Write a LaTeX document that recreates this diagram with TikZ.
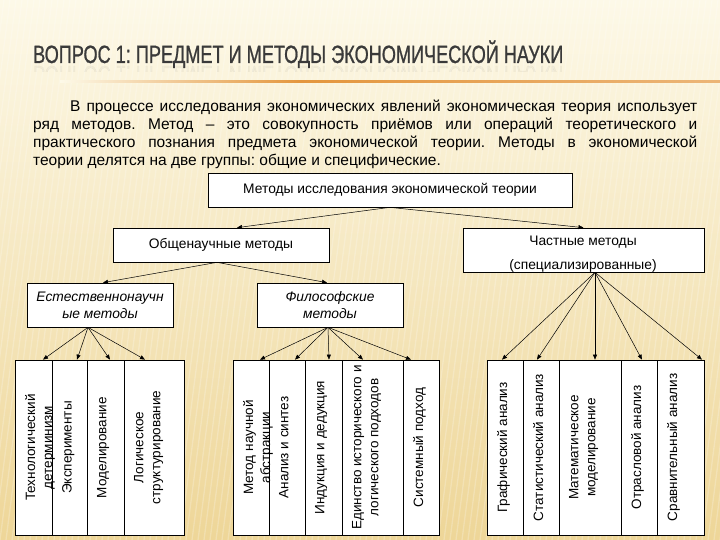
\documentclass[tikz,border=0pt]{standalone}
\usepackage{fontspec}
\setmainfont{Liberation Sans}
\newfontfamily\titlefont[FakeStretch=0.725,FakeBold=0.8]{Liberation Sans}
\usetikzlibrary{arrows.meta}
\frenchspacing
\definecolor{bgtop}{RGB}{253,249,232}
\definecolor{bgbot}{RGB}{238,214,152}
\definecolor{cline}{RGB}{228,150,62}
\definecolor{ctitle}{RGB}{58,58,58}
\tikzset{
  box/.style={draw,fill=white,line width=0.7pt,inner sep=0pt,align=center,font=\fontsize{13.8}{17}\selectfont},
  ibox/.style={box,font=\fontsize{13.8}{17}\selectfont\itshape},
  leaf/.style={draw,fill=white,line width=0.7pt,minimum height=175pt,inner sep=0pt},
  vlabel/.style={rotate=90,anchor=north,inner sep=0pt,align=center,font=\fontsize{13.5}{17}\selectfont},
  arr/.style={-{Triangle[length=5pt,width=4pt]},line width=0.5pt}
}
% leaves: left/right/arrow x/parent/parent shift/text
\def\leaves{15/52/43/es/-12/{Технологический\\детерминизм},
  52/87/77/es/-12/Эксперименты,
  87/124/110/es/-12/Моделирование,
  124/184/145/es/-12/{Логическое\\структурирование},
  233/269/260/fil/-2/{Метод научной\\абстракции},
  269/305/295/fil/-2/Анализ и синтез,
  305/342/329/fil/-2/Индукция и дедукция,
  342/403/363/fil/-2/{Единство исторического и\\логического подходов},
  403/439/411/fil/-2/Системный подход,
  487/523/502/ch/11.5/Графический анализ,
  523/559/537/ch/11.5/Статистический анализ,
  559/621/595/ch/11.5/{Математическое\\моделирование},
  621/657/642/ch/11.5/Отрасловой анализ,
  657/704/702/ch/11.5/Сравнительный анализ}

\begin{document}
\begin{tikzpicture}[x=1pt,y=-1pt]
  \useasboundingbox (0,0) rectangle (720,540);
  % background
  \shade[top color=bgtop,bottom color=bgbot] (0,0) rectangle (720,540);
  \begin{scope}
    \clip (0,0) rectangle (720,540);
    \foreach \i in {-20,-14,...,800}
      \draw[white,opacity=0.22,line width=1.3pt] (\i,0) -- ({\i-70},540);
  \end{scope}
  % title
  \node[anchor=base west,inner sep=0pt,text=ctitle,font=\titlefont\fontsize{25}{25}\selectfont] (title) at (33,63)
    {ВОПРОС 1: ПРЕДМЕТ И МЕТОДЫ ЭКОНОМИЧЕСКОЙ НАУКИ};
  \begin{scope}
    \clip (0,65) rectangle (720,72);
    \node[anchor=base west,inner sep=0pt,text=ctitle,opacity=0.05,font=\titlefont\fontsize{25}{25}\selectfont] (titlerefl) at (33,66)
      {\scalebox{1}[-1]{ВОПРОС 1: ПРЕДМЕТ И МЕТОДЫ ЭКОНОМИЧЕСКОЙ НАУКИ}};
  \end{scope}
  \shade[left color=bgtop,right color=cline] (60,81) rectangle (300,83);
  \shade[left color=cline,right color=cline!70] (300,81) rectangle (720,83);
  % text
  \node[anchor=north west,text width=664pt,align=justify,inner sep=0pt,font=\fontsize{15.5}{18}\selectfont] (para) at (33,100)
    {\hspace*{37pt}В процессе исследования экономических явлений экономическая теория использует\linebreak
     ряд методов. Метод -- это совокупность приёмов или операций теоретического и\linebreak
     практического познания предмета экономической теории. Методы в экономической\linebreak
     теории делятся на две группы: общие и специфические.};
  % upper boxes
  \node[box,minimum width=364pt,minimum height=34pt] (top) at (390,190) {Методы исследования экономической теории};
  \node[box,minimum width=216pt,minimum height=34pt] (obsh) at (221,245) {Общенаучные методы};
  \node[box,minimum width=241pt,minimum height=44pt] (ch) at (583.5,250) {};
  \node[font=\fontsize{13.8}{17}\selectfont,inner sep=0pt] (chA) at (583,242) {Частные методы};
  \node[font=\fontsize{13.8}{17}\selectfont,inner sep=0pt] (chB) at (583,266) {(специализированные)};
  \node[ibox,minimum width=146pt,minimum height=44pt] (es) at (100,305) {Естественнонаучн\\ые методы};
  \node[ibox,minimum width=146pt,minimum height=44pt] (fil) at (330,305) {Философские\\методы};
  \draw[arr] (top.south) -- ([xshift=16pt]obsh.north);
  \draw[arr] (top.south) -- (ch.north);
  \draw[arr] ([xshift=-4pt]obsh.south) -- ([xshift=3pt]es.north);
  \draw[arr] ([xshift=-4pt]obsh.south) -- ([xshift=-3pt]fil.north);
  % leaves
  \foreach \l/\r/\a/\p/\s/\t [count=\i] in \leaves {
    \node[leaf,minimum width={(\r-\l)*1pt}] (m\i) at ({(\l+\r)/2},447.5) {};
    \pgfmathsetmacro\sh{\a-(\l+\r)/2}
    \draw[arr] ([xshift=\s pt]\p.south) -- ([xshift=\sh pt]m\i.north);
  }
  \foreach \l/\r/\a/\p/\s/\t [count=\i] in \leaves
    \node[vlabel] (ml\i) at ({\l+10},447.5) {\t};
\end{tikzpicture}
\end{document}
